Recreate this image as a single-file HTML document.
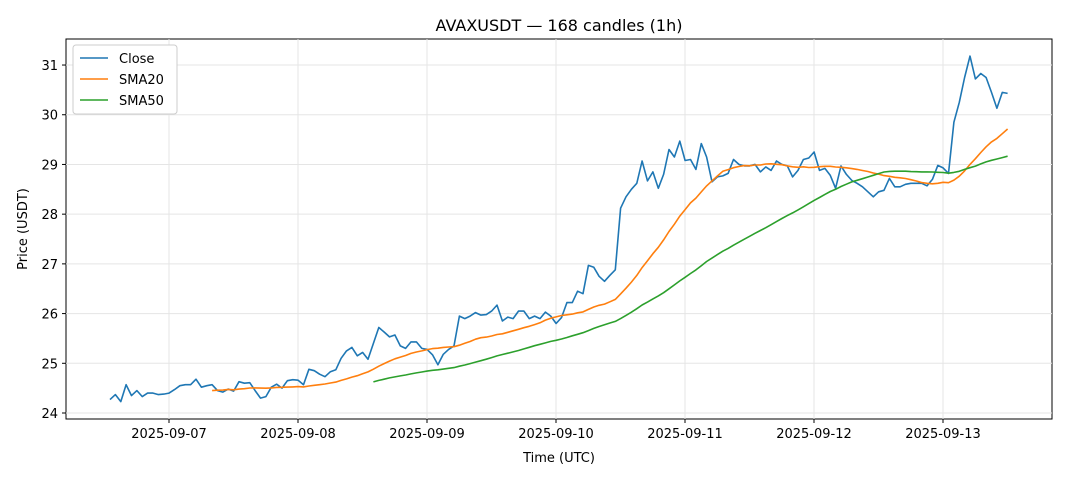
<!DOCTYPE html>
<html><head><meta charset="utf-8"><style>
body{margin:0;background:#fff;font-family:"Liberation Sans","DejaVu Sans",sans-serif}
</style></head><body>
<svg id="c" width="1068" height="481" xmlns="http://www.w3.org/2000/svg" font-family="'DejaVu Sans','Liberation Sans',sans-serif"></svg>
<script>
const C=[24.27,24.37,24.23,24.57,24.35,24.45,24.33,24.40,24.40,24.37,24.38,24.40,24.47,24.55,24.57,24.57,24.68,24.52,24.55,24.57,24.45,24.42,24.48,24.44,24.63,24.60,24.61,24.45,24.30,24.33,24.52,24.58,24.50,24.65,24.67,24.66,24.57,24.88,24.85,24.78,24.73,24.83,24.87,25.10,25.25,25.32,25.15,25.22,25.08,25.40,25.72,25.63,25.53,25.57,25.35,25.30,25.43,25.43,25.30,25.28,25.17,24.97,25.18,25.28,25.35,25.95,25.90,25.95,26.02,25.97,25.98,26.05,26.17,25.85,25.93,25.90,26.05,26.05,25.90,25.95,25.90,26.03,25.95,25.80,25.92,26.22,26.22,26.45,26.40,26.97,26.93,26.75,26.65,26.77,26.88,28.12,28.35,28.50,28.62,29.07,28.67,28.85,28.52,28.80,29.30,29.15,29.47,29.08,29.10,28.90,29.42,29.15,28.65,28.75,28.77,28.82,29.10,29.00,28.97,28.97,29.00,28.85,28.95,28.88,29.07,29.00,28.97,28.75,28.88,29.10,29.13,29.25,28.88,28.92,28.78,28.52,28.97,28.80,28.68,28.62,28.55,28.45,28.35,28.45,28.48,28.72,28.55,28.55,28.60,28.62,28.62,28.62,28.57,28.70,28.98,28.93,28.82,29.85,30.25,30.75,31.18,30.72,30.83,30.75,30.45,30.13,30.45,30.43];
const X=i=>110+i*5.375, Y=p=>413-(p-24)*49.71;
let s='';
s+='<rect x="66" y="39" width="986" height="380" fill="none" stroke="#000" stroke-width="1"/>';
const days=['2025-09-07','2025-09-08','2025-09-09','2025-09-10','2025-09-11','2025-09-12','2025-09-13'];
days.forEach((d,k)=>{const x=169+k*129;s+=`<line x1="${x}" y1="39" x2="${x}" y2="419" stroke="#e5e5e5"/><line x1="${x}" y1="419" x2="${x}" y2="423" stroke="#000"/><text x="${x}" y="438" font-size="13" text-anchor="middle">${d}</text>`});
for(let p=24;p<=31;p++){const y=Y(p);s+=`<line x1="66" y1="${y}" x2="1052" y2="${y}" stroke="#e5e5e5"/><line x1="62" y1="${y}" x2="66" y2="${y}" stroke="#000"/><text x="58" y="${y+5}" font-size="13" text-anchor="end">${p}</text>`}
function line(a,col){let pts=[];a.forEach((v,i)=>{if(v!=null)pts.push(X(i).toFixed(1)+','+Y(v).toFixed(1))});return `<polyline points="${pts.join(' ')}" fill="none" stroke="${col}" stroke-width="1.6" stroke-linejoin="round"/>`}
function sma(n){return C.map((v,i)=>i<n-1?null:C.slice(i-n+1,i+1).reduce((a,b)=>a+b)/n)}
s+=line(C,'#1f77b4')+line(sma(20),'#ff7f0e')+line(sma(50),'#2ca02c');
s+='<text x="559" y="31" font-size="16" text-anchor="middle">AVAXUSDT — 168 candles (1h)</text>';
s+='<text x="559" y="462" font-size="13" text-anchor="middle">Time (UTC)</text>';
s+='<text transform="translate(27,229) rotate(-90)" font-size="13" text-anchor="middle">Price (USDT)</text>';
s+='<rect x="73" y="45" width="104" height="69" rx="3" fill="#fff" stroke="#ccc"/>';
[['Close','#1f77b4'],['SMA20','#ff7f0e'],['SMA50','#2ca02c']].forEach((l,k)=>{const y=58+k*21;s+=`<line x1="80" y1="${y}" x2="108" y2="${y}" stroke="${l[1]}" stroke-width="1.6"/><text x="119" y="${y+5}" font-size="13">${l[0]}</text>`});
document.getElementById('c').innerHTML=s;
</script>
</body></html>
